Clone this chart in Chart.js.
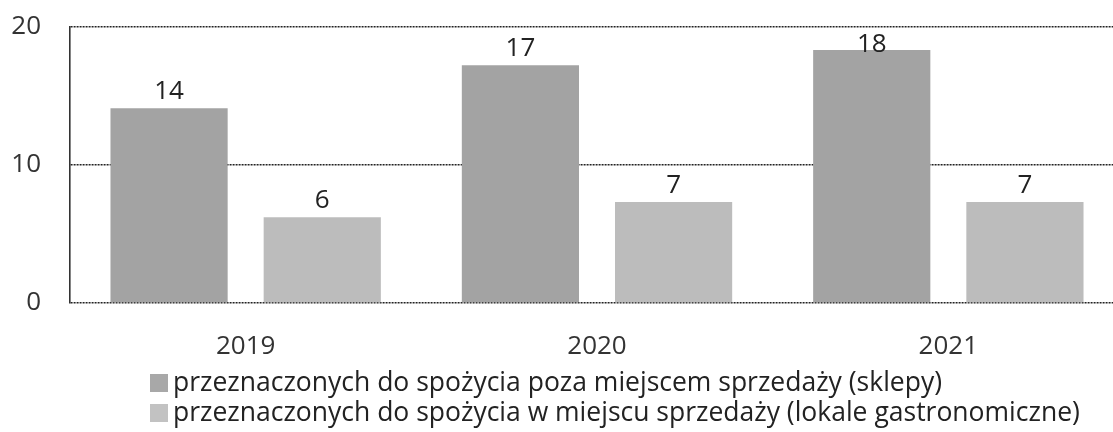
<!DOCTYPE html>
<html>
<head>
<meta charset="utf-8">
<script src="https://cdn.jsdelivr.net/npm/chart.js@4.4.1/dist/chart.umd.min.js"></script>
<style>
  html, body { margin: 0; padding: 0; background: #fff; overflow: hidden; }
  #wrap { position: relative; width: 1113px; height: 432px; overflow: hidden; }
  #box { position: absolute; left: 0; top: -18px; width: 1130px; height: 383px; }
  #legend { position: absolute; left: 150px; top: 366px; font-family: "Open Sans", sans-serif; font-size: 26.5px; color: #222; }
  .li { height: 30px; line-height: 30px; white-space: nowrap; }
  .li span { display: inline-block; width: 18px; height: 18px; margin-right: 5px; vertical-align: -1px; }
</style>
</head>
<body>
<div id="wrap">
  <div id="box"><canvas id="myChart" width="1130" height="383"></canvas></div>
  <div id="legend"></div>
</div>
<script>
var years = ['2019', '2020', '2021'];
var sklepy = [14.1, 17.2, 18.3];
var lokale = [6.2, 7.3, 7.3];
var shownSklepy = [14, 17, 18];
var shownLokale = [6, 7, 7];
var seriesNames = [
  'przeznaczonych do spożycia poza miejscem sprzedaży (sklepy)',
  'przeznaczonych do spożycia w miejscu sprzedaży (lokale gastronomiczne)'
];
var yTicks = [0, 10, 20];

var font = '"Open Sans", sans-serif';

// numbers over the bars
var barLabels = {
  id: 'barLabels',
  afterDatasetsDraw: function(chart) {
    var ctx = chart.ctx;
    var shown = [shownSklepy, shownLokale];
    ctx.save();
    ctx.font = '26px ' + font;
    ctx.fillStyle = '#222';
    ctx.textAlign = 'center';
    ctx.textBaseline = 'alphabetic';
    chart.data.datasets.forEach(function(ds, i) {
      chart.getDatasetMeta(i).data.forEach(function(bar, j) {
        var y = Math.max(bar.y - 9, chart.chartArea.top + 25);
        ctx.fillText(shown[i][j], bar.x, y);
      });
    });
    ctx.restore();
  }
};

var ctx = document.getElementById('myChart').getContext('2d');
var myChart = new Chart(ctx, {
  type: 'bar',
  data: {
    labels: years,
    datasets: [{
      label: seriesNames[0],
      data: sklepy,
      backgroundColor: '#a3a3a3',
      categoryPercentage: 0.872,
      barPercentage: 0.765
    }, {
      label: seriesNames[1],
      data: lokale,
      backgroundColor: '#bcbcbc',
      categoryPercentage: 0.872,
      barPercentage: 0.765
    }]
  },
  options: {
    responsive: false,
    animation: false,
    layout: { padding: { top: 11, right: 6, left: 0, bottom: 0 } },
    plugins: {
      legend: { display: false },
      tooltip: { enabled: false }
    },
    scales: {
      x: {
        grid: { display: false, drawTicks: false },
        border: { display: false },
        ticks: { font: { family: font, size: 26 }, color: '#333', padding: 28 },
        afterFit: function(s) { s.height = 62; }
      },
      y: {
        min: 0,
        max: 20,
        afterBuildTicks: function(s) { s.ticks = yTicks.map(function(v){ return { value: v }; }); },
        grid: { color: '#222', lineWidth: 1.6, drawTicks: false },
        border: { display: true, color: '#333', width: 1.6, dash: [2, 1] },
        ticks: { font: { family: font, size: 26 }, color: '#333', padding: 29 },
        afterFit: function(s) { s.width = 70; }
      }
    }
  },
  plugins: [barLabels]
});

var legendColors = ['#a8a8a8', '#c2c2c2'];
var el = seriesNames.map(function(n, i){
  return "<div class='li'><span style='background:" + legendColors[i] + "'></span>" + n + "</div>";
});
document.getElementById('legend').innerHTML = el.join('');
</script>
</body>
</html>
